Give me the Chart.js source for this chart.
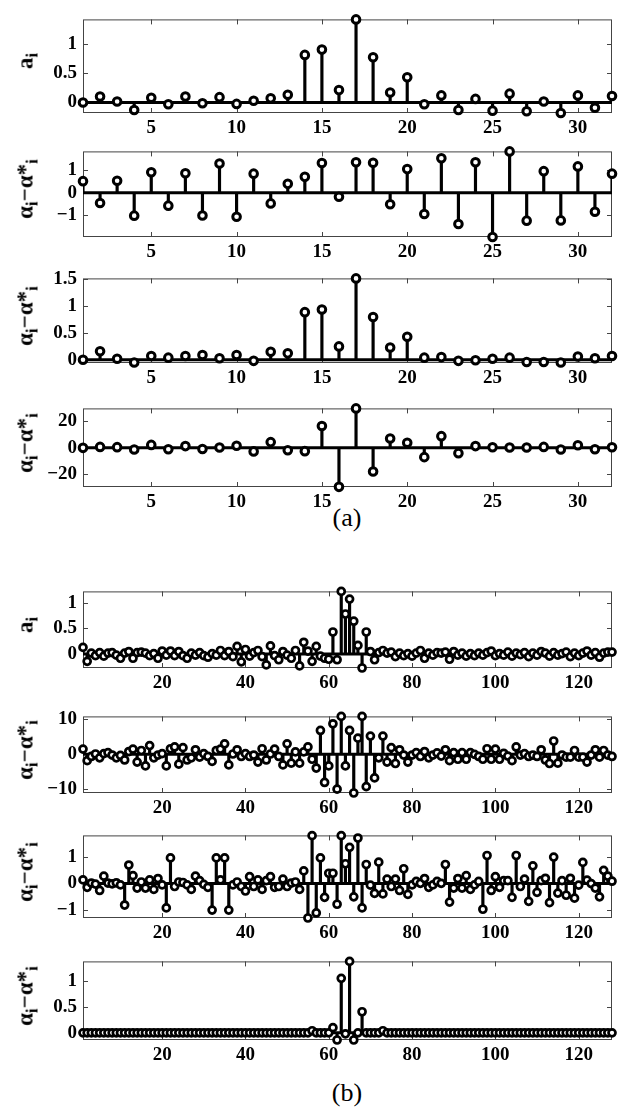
<!DOCTYPE html>
<html lang="en">
<head>
  <meta charset="UTF-8">
  <title>Stem plots (a) and (b)</title>
  <script src="https://cdn.jsdelivr.net/npm/chart.js"></script>
  <style>
    body {
      margin: 0;
      background: #fff;
      width: 629px;
      height: 1115px;
      position: relative;
      overflow: hidden;
      font-family: "Liberation Serif", "Times New Roman", serif;
      color: #000;
    }
    .panel { position: absolute; }
    .ylab {
      position: absolute;
      transform: translate(-50%, -50%) rotate(-90deg);
      white-space: nowrap;
      font-size: 23px;
      font-weight: bold;
      line-height: 1;
    }
    .ylab sub { font-size: 17px; vertical-align: -5px; }
    .cap {
      position: absolute;
      font-size: 26px;
      transform: translate(-50%, -50%);
    }
  </style>
</head>
<body>
  <div class="cap" style="left:347px; top:518px;">(a)</div>
  <div class="cap" style="left:347px; top:1093px;">(b)</div>

  <script>
    // ---- data ----
    // (a) 32 coefficients
    const a1Values = [0, 0.10, 0.015, -0.13, 0.08, -0.03, 0.10, -0.015, 0.09, -0.025, 0.03, 0.07, 0.13, 0.81, 0.90, 0.21,
                      1.415, 0.77, 0.17, 0.43, -0.03, 0.12, -0.13, 0.06, -0.14, 0.15, -0.15, 0.015, -0.18, 0.12, -0.09, 0.11];
    const a2Values = [0.51, -0.45, 0.53, -1.01, 0.90, -0.57, 0.86, -1.0, 1.29, -1.06, 0.84, -0.47, 0.39, 0.70, 1.31, -0.18,
                      1.34, 1.32, -0.51, 1.04, -0.94, 1.52, -1.38, 1.34, -1.95, 1.82, -1.23, 0.95, -1.22, 1.16, -0.84, 0.84];
    const a3Values = [0, 0.16, 0.02, -0.05, 0.07, 0.04, 0.07, 0.09, 0.03, 0.09, -0.02, 0.15, 0.12, 0.89, 0.94, 0.25,
                      1.52, 0.80, 0.23, 0.43, 0.04, 0.05, -0.02, -0.01, 0.02, 0.04, -0.04, -0.04, -0.05, 0.06, 0.03, 0.07];
    const a4Values = [0, 0.7, 0.5, -1.3, 2.2, -1.1, 1.3, -0.9, 0.2, 1.6, -2.7, 4.3, -1.8, -2.5, 16.4, -29.4,
                      29.7, -17.8, 7.0, 3.8, -7.0, 8.8, -4.0, 1.3, 0.4, 0.2, 0.2, 0.7, -1.3, 2.0, -1.1, 0.4];

    // (b) 128 coefficients
    const b1Values = [0.13, -0.14, 0.02, -0.03, 0.03, -0.04, 0.02, 0.03, -0.02, -0.08, 0.02, 0.05, -0.08, 0.03, 0.04, 0.02,
                      -0.03, 0.01, -0.08, 0.06, -0.02, 0.06, -0.03, 0.05, -0.03, -0.08, 0.02, -0.02, 0.03, -0.03, -0.06, 0.01,
                      -0.02, 0.07, -0.03, 0.05, -0.05, 0.15, -0.15, 0.09, -0.04, 0.03, 0.07, -0.05, -0.21, 0.16, -0.03, -0.11,
                      0.05, -0.02, -0.08, 0.07, -0.23, 0.23, 0.06, -0.14, 0.15, -0.04, -0.08, -0.10, 0.43, -0.11, 1.22, 0.78,
                      1.07, 0.64, 0.17, -0.27, 0.43, 0.05, -0.11, 0.03, 0.07, 0.02, 0.04, -0.05, 0.02, -0.03, 0.01, -0.04,
                      0.02, 0.07, -0.08, 0.02, -0.02, 0.03, 0.02, 0.04, -0.10, 0.05, -0.02, 0.02, -0.04, 0.01, -0.03, 0.02,
                      -0.02, 0.03, 0.06, -0.03, 0.01, -0.02, 0.04, -0.04, 0.02, -0.01, 0.03, -0.05, 0.02, -0.02, 0.05, 0.02,
                      -0.04, 0.03, -0.02, 0.01, 0.04, -0.05, 0.02, -0.03, 0.02, 0.06, -0.02, 0.03, -0.06, 0.02, 0.04, 0.04];
    const b2Values = [1.5, -1.8, -0.6, 0.1, -1.0, 0.2, 0.5, -0.2, -1.0, -0.3, -1.6, 0.8, 1.5, -2.2, 1.1, -3.3,
                      2.5, -1.0, -0.2, 0.2, -3.3, 1.6, 2.1, -2.8, 1.9, -1.6, -1.0, 1.3, -0.8, 0.2, -0.6, -2.0,
                      1.1, 1.5, 3.0, -3.0, 0.1, 1.3, -0.6, 0.2, -0.6, -0.2, -2.2, 1.6, -1.6, 0.1, 1.5, -0.6,
                      -3.0, 3.0, -2.5, 0.7, -2.5, 0.7, 2.1, -1.4, -3.9, 6.8, -8.0, -3.3, 8.7, -9.9, 10.8, -3.3,
                      6.8, -11.0, 4.6, 10.8, -9.2, 5.2, -6.7, -1.0, 5.2, -2.2, 1.9, -2.6, 1.3, -0.2, -2.2, -0.2,
                      0.5, -0.6, 0.8, -1.0, -0.2, 0.4, -0.5, 1.3, -1.8, 0.5, -1.4, 0.5, -1.4, 0.5, 0, -0.6,
                      -1.4, 1.6, -1.4, 1.5, -1.4, 0.3, -0.5, -1.8, 2.1, -0.2, 0.2, -0.6, -0.2, -0.6, 1.3, -1.6,
                      -2.6, 3.8, -2.5, -0.2, -0.8, -0.8, 1.1, -0.8, -0.8, -2.2, -0.2, 1.3, -0.8, 1.1, -0.2, -0.6];
    const b3Values = [0.14, -0.14, 0.02, -0.02, -0.26, 0.28, 0.02, -0.01, 0.03, -0.05, -0.81, 0.70, 0.30, -0.17, 0.06, -0.17,
                      0.14, -0.22, 0.19, -0.05, -0.92, 0.97, -0.11, 0.06, 0.04, -0.05, -0.22, 0.28, 0.11, -0.03, -0.14, -1.0,
                      0.97, 0.14, 0.97, -1.0, -0.05, 0.06, -0.11, -0.28, 0.26, -0.11, 0.14, -0.22, 0.11, 0.26, -0.14, -0.11,
                      0.17, -0.11, 0.02, 0.06, -0.22, 0.48, -1.30, 1.81, -1.11, 0.97, -0.52, 0.39, 0.39, -0.78, 1.81, 0.75,
                      1.37, -0.50, 1.72, -0.92, 0.72, -0.06, -0.37, 0.81, -0.39, 0.17, -0.11, 0.17, -0.26, 0.56, -0.41, -0.05,
                      0.08, 0.01, 0.19, -0.14, -0.05, 0.08, 0.01, 0.72, -0.70, -0.17, 0.19, -0.17, 0.30, -0.22, -0.05, 0.08,
                      -0.97, 1.06, -0.26, 0.26, -0.14, 0.11, 0.11, -0.52, 1.06, -0.11, 0.17, -0.67, 0.67, -0.33, 0.11, 0.20,
                      -0.72, 1.0, -0.36, 0.11, -0.44, 0.20, -0.55, -0.06, 0.80, 0.13, 0.0, -0.17, -0.50, 0.50, 0.28, 0.09];
    const b4Values = [0, 0, 0, 0, 0, 0, 0, 0, 0, 0, 0, 0, 0, 0, 0, 0,
                      0, 0, 0, 0, 0, 0, 0, 0, 0, 0, 0, 0, 0, 0, 0, 0,
                      0, 0, 0, 0, 0, 0, 0, 0, 0, 0, 0, 0, 0, 0, 0, 0,
                      0, 0, 0, 0, 0, 0, 0, 0.04, 0, 0, 0, 0, 0.10, -0.14, 1.06, -0.02,
                      1.39, -0.14, 0, 0.41, 0, 0, 0, 0, 0.04, 0, 0, 0, 0, 0, 0, 0,
                      0, 0, 0, 0, 0, 0, 0, 0, 0, 0, 0, 0, 0, 0, 0, 0,
                      0, 0, 0, 0, 0, 0, 0, 0, 0, 0, 0, 0, 0, 0, 0, 0,
                      0, 0, 0, 0, 0, 0, 0, 0, 0, 0, 0, 0, 0, 0, 0, 0];

    // tick labels
    const xTicksA = [5, 10, 15, 20, 25, 30];
    const xTicksB = [20, 40, 60, 80, 100, 120];
    const yTicksA1 = [0, 0.5, 1];
    const yTicksA2 = [-1, 0, 1];
    const yTicksA3 = [0, 0.5, 1, 1.5];
    const yTicksA4 = [-20, 0, 20];
    const yTicksB1 = [0, 0.5, 1];
    const yTicksB2 = [-10, 0, 10];
    const yTicksB3 = [-1, 0, 1];
    const yTicksB4 = [0, 0.5, 1];

    // ---- layout ----
    const BOX_L = 83, BOX_R = 612, YW = 70, PAD_T = 7, PAD_R = 10, XH = 28;
    const LAB_A = 'a<sub>i</sub>';
    const LAB_ALPHA = '&alpha;<sub>i</sub>&minus;&alpha;*<sub>i</sub>';

    // MATLAB-like frame with inward ticks on all four sides
    const boxPlugin = {
      id: 'matlabBox',
      beforeDatasetsDraw(chart) {
        const { ctx, chartArea: a, scales: { x, y } } = chart;
        ctx.save();
        ctx.strokeStyle = '#444';
        ctx.lineWidth = 1;
        ctx.strokeRect(a.left + 0.5, a.top + 0.5, a.right - a.left - 1, a.bottom - a.top - 1);
        ctx.beginPath();
        x.ticks.forEach(t => {
          const px = Math.round(x.getPixelForValue(t.value)) + 0.5;
          ctx.moveTo(px, a.bottom); ctx.lineTo(px, a.bottom - 5);
          ctx.moveTo(px, a.top); ctx.lineTo(px, a.top + 5);
        });
        y.ticks.forEach(t => {
          const py = Math.round(y.getPixelForValue(t.value)) + 0.5;
          ctx.moveTo(a.left, py); ctx.lineTo(a.left + 5, py);
          ctx.moveTo(a.right, py); ctx.lineTo(a.right - 5, py);
        });
        ctx.stroke();
        ctx.restore();
      }
    };

    const tickFont = { family: '"Liberation Serif", "Times New Roman", serif', size: 19, weight: 'bold' };

    function stemChart(top, height, values, yMin, yMax, yTicks, xTicks, label, small) {
      const n = values.length;
      const div = document.createElement('div');
      div.className = 'panel';
      div.style.left = (BOX_L - YW) + 'px';
      div.style.top = (top - PAD_T) + 'px';
      div.style.width = (YW + BOX_R - BOX_L + PAD_R) + 'px';
      div.style.height = (PAD_T + height + XH) + 'px';
      const cv = document.createElement('canvas');
      div.appendChild(cv);
      document.body.appendChild(div);

      const lab = document.createElement('div');
      lab.className = 'ylab';
      lab.innerHTML = label;
      lab.style.left = '27px';
      lab.style.top = (top + height / 2) + 'px';
      document.body.appendChild(lab);

      const pts = values.map((v, i) => ({ x: i + 1, y: v }));

      new Chart(cv, {
        type: 'bar',
        data: {
          datasets: [
            {
              type: 'scatter',
              data: pts,
              pointRadius: small ? 3.5 : 3.8,
              pointBorderWidth: small ? 2.7 : 3,
              pointBackgroundColor: '#fff',
              pointBorderColor: '#000',
              showLine: false,
              clip: false,
              order: 0
            },
            {
              type: 'line',
              data: [{ x: 1, y: 0 }, { x: n, y: 0 }],
              borderColor: '#000',
              borderWidth: 3,
              pointRadius: 0,
              order: 1
            },
            {
              type: 'bar',
              data: pts,
              backgroundColor: '#000',
              borderWidth: 0,
              barThickness: 2.5,
              order: 2
            }
          ]
        },
        options: {
          responsive: true,
          maintainAspectRatio: false,
          animation: false,
          layout: { padding: { top: PAD_T, right: PAD_R, left: 0, bottom: 0 } },
          plugins: { legend: { display: false }, tooltip: { enabled: false } },
          scales: {
            x: {
              type: 'linear',
              min: 1,
              max: n,
              offset: false,
              grid: { display: false, drawTicks: false },
              border: { display: false },
              afterBuildTicks: axis => { axis.ticks = xTicks.map(v => ({ value: v })); },
              afterFit: s => { s.height = XH; },
              ticks: { font: tickFont, color: '#000', padding: 4, maxRotation: 0, autoSkip: false }
            },
            y: {
              min: yMin,
              max: yMax,
              grid: { display: false, drawTicks: false },
              border: { display: false },
              afterBuildTicks: axis => { axis.ticks = yTicks.map(v => ({ value: v })); },
              afterFit: s => { s.width = YW; },
              ticks: {
                font: tickFont,
                color: '#000',
                padding: 6,
                callback: v => String(v).replace('-', '\u2212')
              }
            }
          }
        },
        plugins: [boxPlugin]
      });
    }

    stemChart(9, 104, a1Values, -0.18, 1.415, yTicksA1, xTicksA, LAB_A, false);
    stemChart(141, 96, a2Values, -1.95, 1.82, yTicksA2, xTicksA, LAB_ALPHA, false);
    stemChart(268, 95, a3Values, -0.06, 1.52, yTicksA3, xTicksA, LAB_ALPHA, false);
    stemChart(398, 89, a4Values, -29.5, 29.7, yTicksA4, xTicksA, LAB_ALPHA, false);

    stemChart(581, 87, b1Values, -0.27, 1.22, yTicksB1, xTicksB, LAB_A, true);
    stemChart(706, 87, b2Values, -11.0, 10.8, yTicksB2, xTicksB, LAB_ALPHA, true);
    stemChart(825, 93, b3Values, -1.30, 1.82, yTicksB3, xTicksB, LAB_ALPHA, true);
    stemChart(951, 89, b4Values, -0.14, 1.39, yTicksB4, xTicksB, LAB_ALPHA, true);
  </script>
</body>
</html>
